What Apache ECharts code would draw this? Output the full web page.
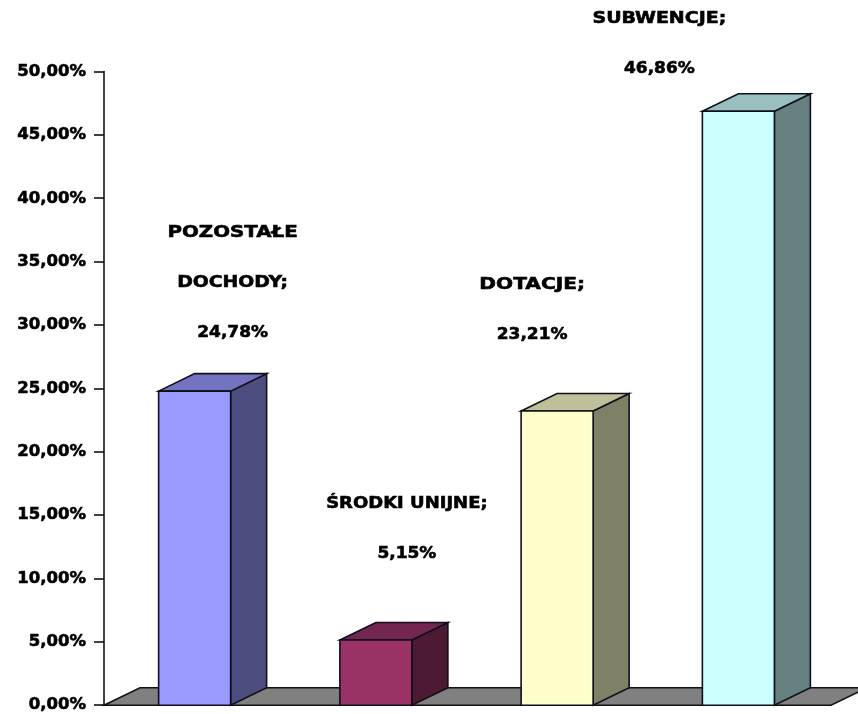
<!DOCTYPE html>
<html>
<head>
<meta charset="utf-8">
<style>html,body{margin:0;padding:0;background:#fff}#c{width:858px;height:714px}</style>
<script src="https://cdn.jsdelivr.net/npm/echarts@6/dist/echarts.min.js"></script>
</head>
<body>
<div id="c"></div>
<script>
const categories = ['POZOSTAŁE\nDOCHODY;', 'ŚRODKI UNIJNE;', 'DOTACJE;', 'SUBWENCJE;'];
const values = [24.78, 5.15, 23.21, 46.86];
const tickStep = 5;
const axisMax = 50;

const fmt = v => v.toFixed(2).replace('.', ',') + '%';
const FONT = '"DejaVu Sans", sans-serif';
const faces = [
  { front: '#9999FF', side: '#4D4D80', top: '#7373BF' },
  { front: '#993366', side: '#4D1A33', top: '#732650' },
  { front: '#FFFFCC', side: '#808066', top: '#BFBF99' },
  { front: '#CCFFFF', side: '#668080', top: '#99BFBF' }
];
const DX = 36, DY = -17.5, BAR_W = 72;
const labelShift = [38, 31, -25, -79];
const labelBase = [233, 504, 285, 19];
const labelStretch = [[1.2, 1.14], [1.09], [1.22], [1.15]];
const LINE_GAP = 50;
const FONT_PX = 16.5;

function renderFloor(params, api) {
  const cs = params.coordSys;
  const y = api.coord([0, 0])[1];
  const l = cs.x, r = cs.x + cs.width + 2;
  return {
    type: 'polygon', z2: 0,
    shape: { points: [[l, y], [l + DX, y + DY], [r + DX, y + DY], [r, y]] },
    style: { fill: '#808080', stroke: '#111', lineWidth: 1.6 }
  };
}

function renderBar(params, api) {
  const i = params.dataIndex;
  const c = faces[i];
  const top = api.coord([i, api.value(1)]);
  const base = api.coord([i, 0]);
  const x0 = top[0] - BAR_W / 2, x1 = top[0] + BAR_W / 2;
  const stroke = { stroke: '#10101c', lineWidth: 1.6, lineJoin: 'miter' };
  const poly = (pts, fill) => ({ type: 'polygon', shape: { points: pts }, style: Object.assign({ fill }, stroke) });
  const lines = (categories[i] + '\n' + fmt(values[i])).split('\n');
  const texts = lines.map((line, k) => {
    const isValue = k === lines.length - 1;
    return {
      type: 'text',
      x: top[0] + labelShift[i],
      y: labelBase[i] + k * LINE_GAP,
      scaleX: isValue ? 1.03 : labelStretch[i][k],
      style: {
        text: line, x: 0, y: 0,
        align: 'center', verticalAlign: 'middle',
        font: 'bold ' + FONT_PX + 'px ' + FONT, fill: '#000',
        stroke: '#000', lineWidth: 0.6
      }
    };
  });
  return {
    type: 'group',
    children: [
      poly([[x1, top[1]], [x1 + DX, top[1] + DY], [x1 + DX, base[1] + DY], [x1, base[1]]], c.side),
      poly([[x0, top[1]], [x0 + DX, top[1] + DY], [x1 + DX, top[1] + DY], [x1, top[1]]], c.top),
      poly([[x0, top[1]], [x1, top[1]], [x1, base[1]], [x0, base[1]]], c.front)
    ].concat(texts)
  };
}

const chart = echarts.init(document.getElementById('c'), null, { renderer: 'canvas' });
chart.setOption({
  animation: false,
  backgroundColor: '#fff',
  grid: { left: 104, top: 71.5, width: 725, height: 636, containLabel: false },
  xAxis: {
    type: 'category', data: categories, boundaryGap: true,
    axisLine: { show: false }, axisTick: { show: false }, axisLabel: { show: false }, splitLine: { show: false }
  },
  yAxis: {
    type: 'value', min: 0, max: axisMax, interval: tickStep,
    axisLine: { show: true, lineStyle: { color: '#111', width: 1.6 } },
    axisTick: { show: true, length: 10, lineStyle: { color: '#111', width: 1.6 } },
    axisLabel: {
      margin: 18, color: '#000', fontFamily: FONT, fontWeight: 'bold', fontSize: FONT_PX,
      textBorderColor: '#000', textBorderWidth: 0.6, padding: [0, 0, 14, 0], formatter: v => fmt(v)
    },
    splitLine: { show: false }
  },
  series: [
    { type: 'custom', renderItem: renderFloor, data: [[0, 0]], z: 1, clip: false, silent: true },
    { type: 'custom', renderItem: renderBar, data: values.map((v, i) => [i, v]), encode: { x: 0, y: 1 }, z: 2, clip: false, silent: true }
  ]
});
</script>
</body>
</html>
